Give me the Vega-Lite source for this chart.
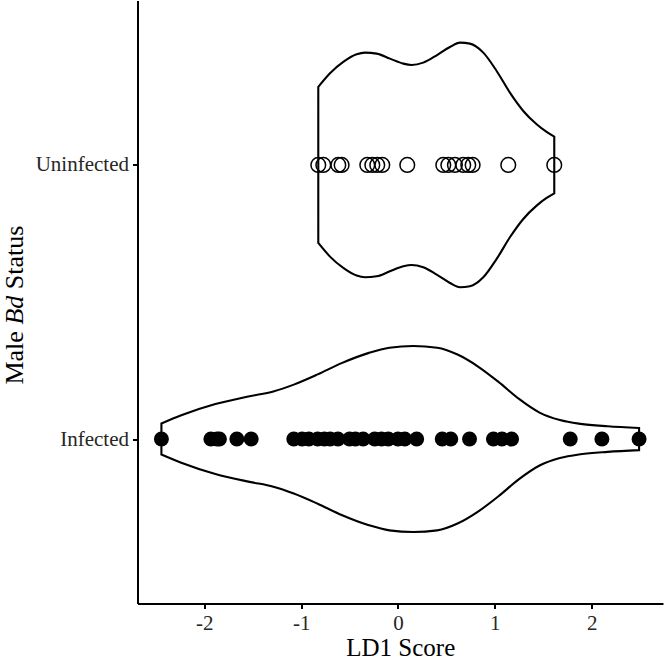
{
  "$schema": "https://vega.github.io/schema/vega-lite/v6.json",
  "autosize": {"type": "none"},
  "padding": {"left": 137.5, "top": 0.5, "right": 2, "bottom": 56.5},
  "width": 525.5,
  "height": 603,
  "background": "white",
  "config": {
    "view": {"stroke": null},
    "axis": {
      "grid": false,
      "domainColor": "black",
      "domainWidth": 2,
      "tickColor": "black",
      "tickWidth": 2,
      "tickSize": 5,
      "labelFont": "Liberation Serif",
      "labelFontSize": 21,
      "labelColor": "#262626",
      "labelPadding": 4,
      "titleFont": "Liberation Serif",
      "titleFontSize": 25,
      "titleFontWeight": "normal",
      "titleColor": "black"
    }
  },
  "datasets": {
    "violin": [
      {"status": "Infected", "LD1": -2.443, "upper": 1.0566, "lower": 0.9434},
      {"status": "Infected", "LD1": -2.238, "upper": 1.0866, "lower": 0.9134},
      {"status": "Infected", "LD1": -1.886, "upper": 1.1276, "lower": 0.8724},
      {"status": "Infected", "LD1": -1.533, "upper": 1.1562, "lower": 0.8438},
      {"status": "Infected", "LD1": -1.287, "upper": 1.1737, "lower": 0.8263},
      {"status": "Infected", "LD1": -1.076, "upper": 1.1986, "lower": 0.8014},
      {"status": "Infected", "LD1": -0.829, "upper": 1.2359, "lower": 0.7641},
      {"status": "Infected", "LD1": -0.582, "upper": 1.2770, "lower": 0.7230},
      {"status": "Infected", "LD1": -0.300, "upper": 1.3144, "lower": 0.6856},
      {"status": "Infected", "LD1": -0.089, "upper": 1.3331, "lower": 0.6669},
      {"status": "Infected", "LD1": 0.158, "upper": 1.3393, "lower": 0.6607},
      {"status": "Infected", "LD1": 0.405, "upper": 1.3331, "lower": 0.6669},
      {"status": "Infected", "LD1": 0.615, "upper": 1.3082, "lower": 0.6918},
      {"status": "Infected", "LD1": 0.827, "upper": 1.2646, "lower": 0.7354},
      {"status": "Infected", "LD1": 1.038, "upper": 1.2086, "lower": 0.7914},
      {"status": "Infected", "LD1": 1.250, "upper": 1.1463, "lower": 0.8537},
      {"status": "Infected", "LD1": 1.462, "upper": 1.0965, "lower": 0.9035},
      {"status": "Infected", "LD1": 1.672, "upper": 1.0691, "lower": 0.9309},
      {"status": "Infected", "LD1": 1.884, "upper": 1.0554, "lower": 0.9446},
      {"status": "Infected", "LD1": 2.166, "upper": 1.0467, "lower": 0.9533},
      {"status": "Infected", "LD1": 2.490, "upper": 1.0405, "lower": 0.9595},
      {"status": "Uninfected", "LD1": -0.823, "upper": 2.2846, "lower": 1.7154},
      {"status": "Uninfected", "LD1": -0.702, "upper": 2.3344, "lower": 1.6656},
      {"status": "Uninfected", "LD1": -0.565, "upper": 2.3758, "lower": 1.6242},
      {"status": "Uninfected", "LD1": -0.427, "upper": 2.4037, "lower": 1.5963},
      {"status": "Uninfected", "LD1": -0.341, "upper": 2.4098, "lower": 1.5902},
      {"status": "Uninfected", "LD1": -0.220, "upper": 2.4062, "lower": 1.5938},
      {"status": "Uninfected", "LD1": -0.083, "upper": 2.3879, "lower": 1.6121},
      {"status": "Uninfected", "LD1": 0.055, "upper": 2.3697, "lower": 1.6303},
      {"status": "Uninfected", "LD1": 0.141, "upper": 2.3648, "lower": 1.6352},
      {"status": "Uninfected", "LD1": 0.261, "upper": 2.3733, "lower": 1.6267},
      {"status": "Uninfected", "LD1": 0.400, "upper": 2.4001, "lower": 1.5999},
      {"status": "Uninfected", "LD1": 0.537, "upper": 2.4305, "lower": 1.5695},
      {"status": "Uninfected", "LD1": 0.640, "upper": 2.4463, "lower": 1.5537},
      {"status": "Uninfected", "LD1": 0.743, "upper": 2.4426, "lower": 1.5574},
      {"status": "Uninfected", "LD1": 0.881, "upper": 2.4098, "lower": 1.5902},
      {"status": "Uninfected", "LD1": 1.019, "upper": 2.3429, "lower": 1.6571},
      {"status": "Uninfected", "LD1": 1.156, "upper": 2.2639, "lower": 1.7361},
      {"status": "Uninfected", "LD1": 1.294, "upper": 2.1970, "lower": 1.8030},
      {"status": "Uninfected", "LD1": 1.432, "upper": 2.1484, "lower": 1.8516},
      {"status": "Uninfected", "LD1": 1.535, "upper": 2.1204, "lower": 1.8796},
      {"status": "Uninfected", "LD1": 1.614, "upper": 2.1034, "lower": 1.8966}
    ],
    "pts": [
      {"status": "Infected", "code": 1, "LD1": -2.443},
      {"status": "Infected", "code": 1, "LD1": -1.932},
      {"status": "Infected", "code": 1, "LD1": -1.869},
      {"status": "Infected", "code": 1, "LD1": -1.844},
      {"status": "Infected", "code": 1, "LD1": -1.664},
      {"status": "Infected", "code": 1, "LD1": -1.516},
      {"status": "Infected", "code": 1, "LD1": -1.076},
      {"status": "Infected", "code": 1, "LD1": -0.99},
      {"status": "Infected", "code": 1, "LD1": -0.92},
      {"status": "Infected", "code": 1, "LD1": -0.83},
      {"status": "Infected", "code": 1, "LD1": -0.76},
      {"status": "Infected", "code": 1, "LD1": -0.70},
      {"status": "Infected", "code": 1, "LD1": -0.62},
      {"status": "Infected", "code": 1, "LD1": -0.50},
      {"status": "Infected", "code": 1, "LD1": -0.44},
      {"status": "Infected", "code": 1, "LD1": -0.36},
      {"status": "Infected", "code": 1, "LD1": -0.24},
      {"status": "Infected", "code": 1, "LD1": -0.17},
      {"status": "Infected", "code": 1, "LD1": -0.10},
      {"status": "Infected", "code": 1, "LD1": 0.00},
      {"status": "Infected", "code": 1, "LD1": 0.07},
      {"status": "Infected", "code": 1, "LD1": 0.193},
      {"status": "Infected", "code": 1, "LD1": 0.457},
      {"status": "Infected", "code": 1, "LD1": 0.545},
      {"status": "Infected", "code": 1, "LD1": 0.739},
      {"status": "Infected", "code": 1, "LD1": 0.986},
      {"status": "Infected", "code": 1, "LD1": 1.074},
      {"status": "Infected", "code": 1, "LD1": 1.173},
      {"status": "Infected", "code": 1, "LD1": 1.779},
      {"status": "Infected", "code": 1, "LD1": 2.106},
      {"status": "Infected", "code": 1, "LD1": 2.490},
      {"status": "Uninfected", "code": 2, "LD1": -0.823},
      {"status": "Uninfected", "code": 2, "LD1": -0.771},
      {"status": "Uninfected", "code": 2, "LD1": -0.616},
      {"status": "Uninfected", "code": 2, "LD1": -0.582},
      {"status": "Uninfected", "code": 2, "LD1": -0.317},
      {"status": "Uninfected", "code": 2, "LD1": -0.265},
      {"status": "Uninfected", "code": 2, "LD1": -0.214},
      {"status": "Uninfected", "code": 2, "LD1": -0.162},
      {"status": "Uninfected", "code": 2, "LD1": 0.096},
      {"status": "Uninfected", "code": 2, "LD1": 0.468},
      {"status": "Uninfected", "code": 2, "LD1": 0.520},
      {"status": "Uninfected", "code": 2, "LD1": 0.588},
      {"status": "Uninfected", "code": 2, "LD1": 0.674},
      {"status": "Uninfected", "code": 2, "LD1": 0.726},
      {"status": "Uninfected", "code": 2, "LD1": 0.771},
      {"status": "Uninfected", "code": 2, "LD1": 1.139},
      {"status": "Uninfected", "code": 2, "LD1": 1.614}
    ],
    "ytitle": [
      {"piece": "Male", "style": "normal"},
      {"piece": "Bd", "style": "italic"},
      {"piece": "Status", "style": "normal"}
    ]
  },
  "layer": [
    {
      "data": {"name": "violin"},
      "transform": [{"filter": "datum.status === 'Infected'"}],
      "mark": {"type": "area", "interpolate": "monotone", "fill": "white", "stroke": "black", "strokeWidth": 2.1},
      "encoding": {
        "x": {"field": "LD1", "type": "quantitative", "scale": {"domain": [-2.69, 2.737], "nice": false, "zero": false},
              "axis": {"values": [-2, -1, 0, 1, 2], "title": "LD1 Score", "titleBaseline": "alphabetic", "titleY": 51.5,
                       "labelExpr": "datum.value < 0 ? '-' + abs(datum.value) : '' + datum.value"}},
        "y": {"field": "upper", "type": "quantitative", "scale": {"domain": [0.4, 2.6], "nice": false, "zero": false},
              "axis": {"values": [1, 2], "labelExpr": "datum.value == 1 ? 'Infected' : 'Uninfected'", "title": null}},
        "y2": {"field": "lower"}
      }
    },
    {
      "data": {"name": "violin"},
      "transform": [{"filter": "datum.status === 'Uninfected'"}],
      "mark": {"type": "area", "interpolate": "monotone", "fill": "white", "stroke": "black", "strokeWidth": 2.1},
      "encoding": {
        "x": {"field": "LD1", "type": "quantitative"},
        "y": {"field": "upper", "type": "quantitative"},
        "y2": {"field": "lower"}
      }
    },
    {
      "data": {"name": "pts"},
      "transform": [{"filter": "datum.status === 'Infected'"}],
      "mark": {"type": "point", "shape": "circle", "filled": true, "color": "black", "opacity": 1, "size": 225},
      "encoding": {
        "x": {"field": "LD1", "type": "quantitative"},
        "y": {"field": "code", "type": "quantitative"}
      }
    },
    {
      "data": {"name": "pts"},
      "transform": [{"filter": "datum.status === 'Uninfected'"}],
      "mark": {"type": "point", "shape": "circle", "filled": false, "stroke": "black", "strokeWidth": 1.5, "opacity": 1, "size": 215},
      "encoding": {
        "x": {"field": "LD1", "type": "quantitative"},
        "y": {"field": "code", "type": "quantitative"}
      }
    },
    {
      "data": {"name": "ytitle"},
      "transform": [{"filter": "datum.piece === 'Male'"}],
      "mark": {"type": "text", "angle": 270, "align": "right", "baseline": "alphabetic", "font": "Liberation Serif", "fontSize": 26, "color": "black", "dx": -6.5},
      "encoding": {
        "x": {"datum": -3.876, "type": "quantitative"},
        "y": {"datum": 1.4175, "type": "quantitative"},
        "text": {"field": "piece"}
      }
    },
    {
      "data": {"name": "ytitle"},
      "transform": [{"filter": "datum.piece === 'Bd'"}],
      "mark": {"type": "text", "angle": 270, "align": "left", "baseline": "alphabetic", "font": "Liberation Serif", "fontSize": 26, "fontStyle": "italic", "color": "black", "dx": 0},
      "encoding": {
        "x": {"datum": -3.876, "type": "quantitative"},
        "y": {"datum": 1.4175, "type": "quantitative"},
        "text": {"field": "piece"}
      }
    },
    {
      "data": {"name": "ytitle"},
      "transform": [{"filter": "datum.piece === 'Status'"}],
      "mark": {"type": "text", "angle": 270, "align": "left", "baseline": "alphabetic", "font": "Liberation Serif", "fontSize": 26, "color": "black", "dx": 35.4},
      "encoding": {
        "x": {"datum": -3.876, "type": "quantitative"},
        "y": {"datum": 1.4175, "type": "quantitative"},
        "text": {"field": "piece"}
      }
    }
  ]
}
